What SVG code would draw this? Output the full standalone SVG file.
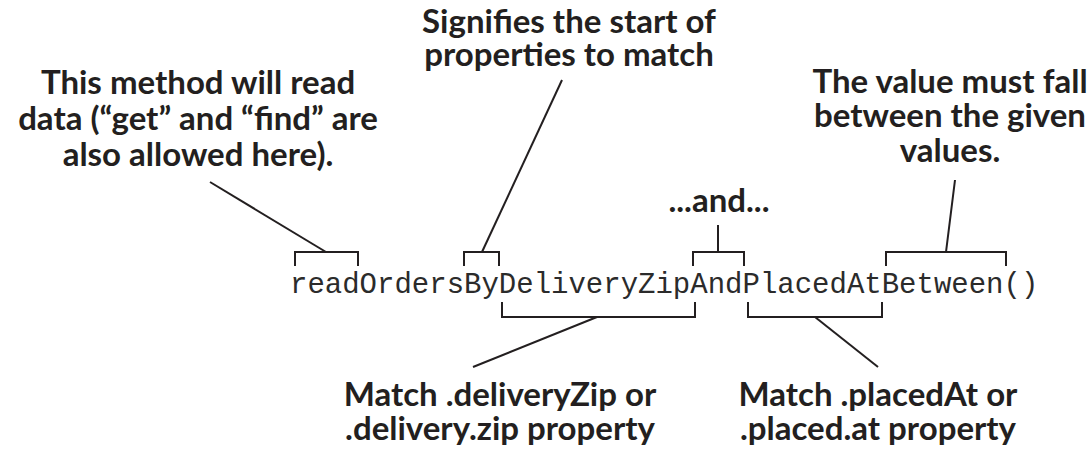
<svg xmlns="http://www.w3.org/2000/svg" width="1088" height="458" viewBox="0 0 1088 458">
  <style>
    .lbl { font-family: "Lato", "Open Sans", "Liberation Sans", sans-serif; font-weight: bold; font-size: 33px; fill: #231f20; text-anchor: middle; }
    .code { font-family: "Liberation Mono", "DejaVu Sans Mono", monospace; font-size: 29px; fill: #2b2b2b; }
    .ln { fill: none; stroke: #231f20; stroke-width: 2; stroke-linejoin: miter; stroke-linecap: butt; }
  </style>
  <rect width="1088" height="458" fill="#ffffff"/>

  <g id="code">
    <text class="code" x="290" y="293">readOrdersByDeliveryZipAndPlacedAtBetween()</text>
  </g>

  <g id="label-read">
    <text class="lbl" x="198" y="94">This method will read</text>
    <text class="lbl" x="198" y="130">data (“get” and “find” are</text>
    <text class="lbl" x="198" y="166">also allowed here).</text>
  </g>

  <g id="label-by">
    <text class="lbl" x="569" y="33">Signifies the start of</text>
    <text class="lbl" x="569" y="66">properties to match</text>
  </g>

  <g id="label-and">
    <text class="lbl" x="719" y="212">...and...</text>
  </g>

  <g id="label-between">
    <text class="lbl" x="950" y="93">The value must fall</text>
    <text class="lbl" x="950" y="127">between the given</text>
    <text class="lbl" x="950" y="162">values.</text>
  </g>

  <g id="label-deliveryzip">
    <text class="lbl" x="500" y="406">Match .deliveryZip or</text>
    <text class="lbl" x="500" y="440">.delivery.zip property</text>
  </g>

  <g id="label-placedat">
    <text class="lbl" x="878" y="406">Match .placedAt or</text>
    <text class="lbl" x="878" y="440">.placed.at property</text>
  </g>

  <g id="connectors">
    <!-- top brackets -->
    <path class="ln" d="M295,266 V252 H358 V266"/>
    <path class="ln" d="M464,266 V252 H499 V266"/>
    <path class="ln" d="M693,266 V252 H744 V266"/>
    <path class="ln" d="M886,266 V252 H1006 V266"/>
    <!-- bottom brackets -->
    <path class="ln" d="M502,302 V317 H695 V302"/>
    <path class="ln" d="M748,302 V317 H882 V302"/>
    <!-- leader lines -->
    <line class="ln" x1="210" y1="182" x2="326" y2="252"/>
    <line class="ln" x1="562" y1="80" x2="482" y2="252"/>
    <line class="ln" x1="718" y1="225" x2="718" y2="252"/>
    <line class="ln" x1="955" y1="180" x2="946" y2="252"/>
    <line class="ln" x1="597" y1="317" x2="473" y2="367"/>
    <line class="ln" x1="815" y1="317" x2="878" y2="367"/>
  </g>
</svg>
